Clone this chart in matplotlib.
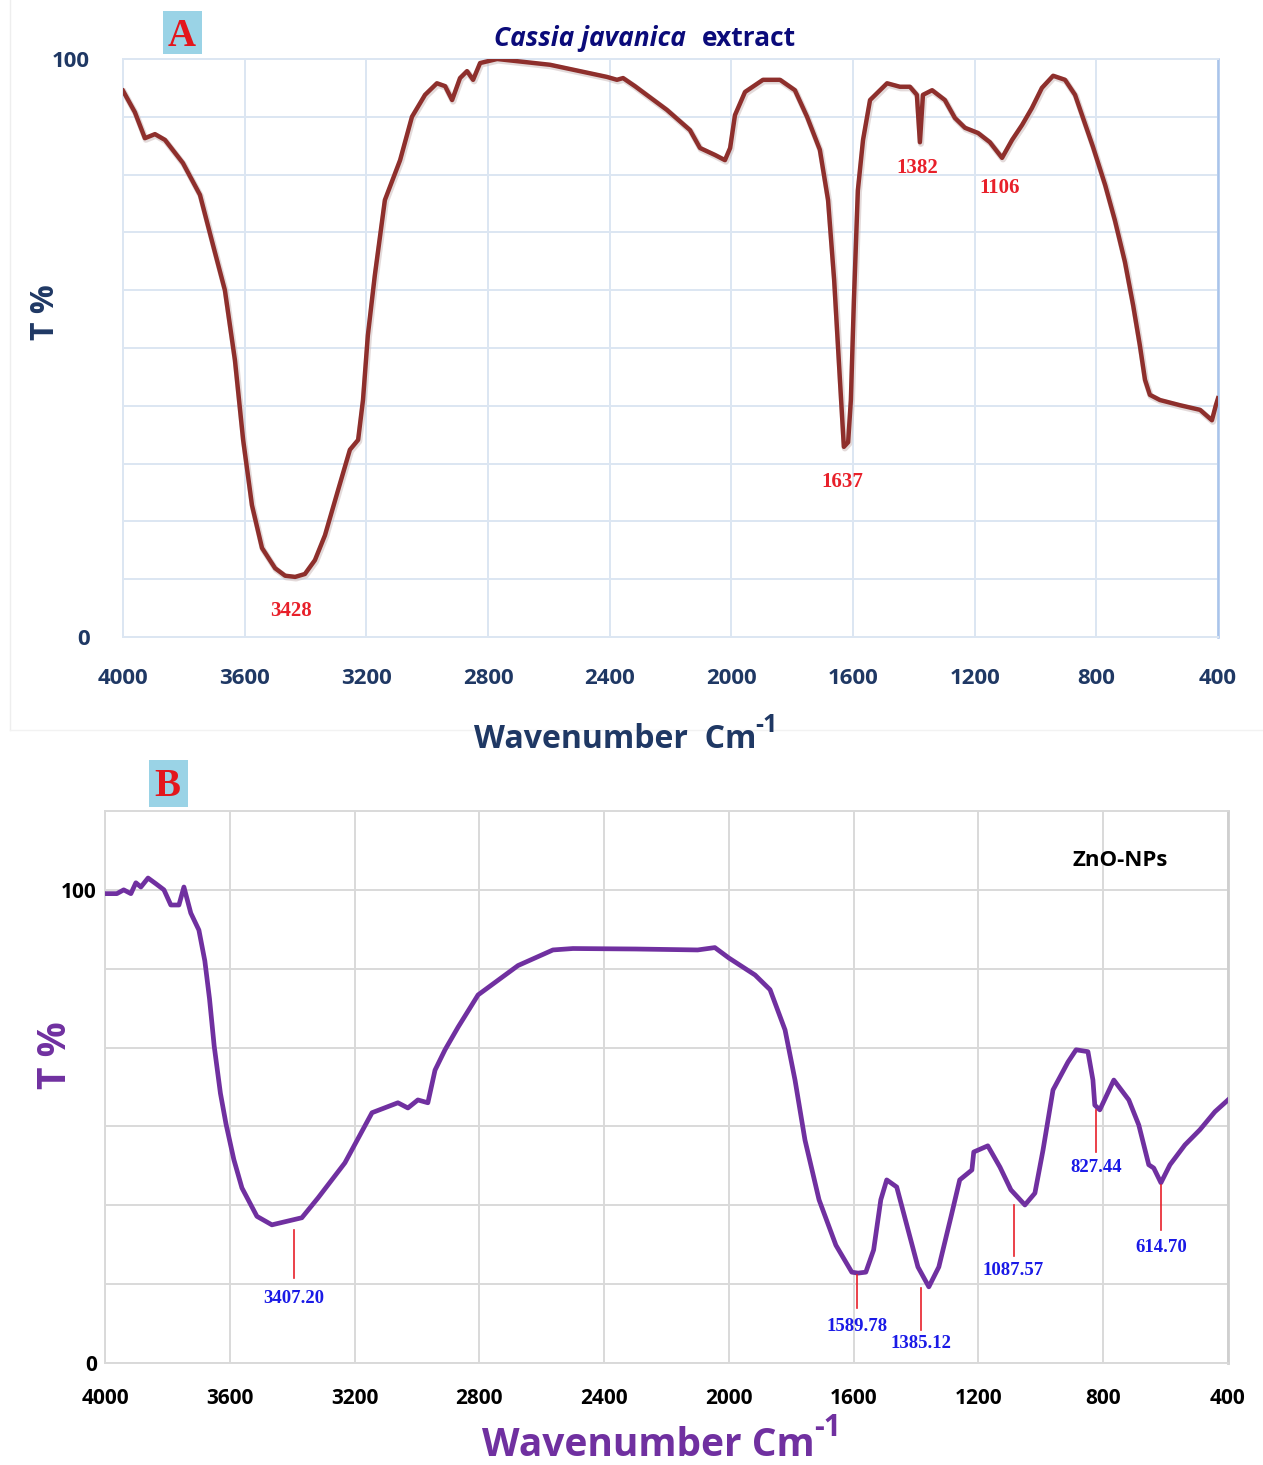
import numpy as np
import matplotlib
matplotlib.use("Agg")
import matplotlib.pyplot as plt
import matplotlib.transforms as mtrans
from matplotlib.patches import Rectangle
from matplotlib.lines import Line2D

# ---- panel A: Cassia javanica extract (wavenumber, T%) ----
wn_a = [4000, 3961, 3928, 3895, 3862, 3803, 3747, 3704, 3665, 3632, 3605, 3576,
        3543, 3500, 3467, 3434, 3402, 3369, 3336, 3293, 3254, 3227, 3211, 3195,
        3172, 3139, 3089, 3050, 3007, 2968, 2941, 2918, 2892, 2869, 2849, 2826,
        2770, 2596, 2409, 2376, 2356, 2317, 2212, 2136, 2103, 2054, 2021, 2004,
        1988, 1955, 1896, 1840, 1791, 1751, 1709, 1682, 1662, 1643, 1630, 1616,
        1607, 1597, 1584, 1567, 1544, 1488, 1446, 1413, 1390, 1380, 1370, 1340,
        1298, 1265, 1232, 1189, 1150, 1110, 1077, 1044, 1012, 979, 942, 903,
        870, 811, 771, 739, 706, 679, 657, 640, 624, 591, 525, 459, 420, 407, 400]
t_a = [94.5, 90.8, 86.3, 87.0, 86.0, 82.0, 76.5, 67.8, 60.0, 47.9, 34.1, 22.8,
       15.4, 11.9, 10.6, 10.4, 10.9, 13.3, 17.6, 25.4, 32.4, 34.1, 41.0, 52.2,
       62.6, 75.6, 82.5, 90.0, 93.8, 95.8, 95.3, 92.9, 96.7, 97.9, 96.4, 99.3,
       100.0, 99.0, 96.9, 96.4, 96.7, 95.3, 91.2, 87.7, 84.6, 83.4, 82.5, 84.6,
       90.3, 94.3, 96.4, 96.4, 94.6, 90.0, 84.3, 75.6, 61.8, 44.5, 32.9, 33.7,
       41.0, 58.3, 77.3, 86.0, 92.9, 95.8, 95.2, 95.2, 93.8, 85.6, 93.8, 94.6,
       92.9, 89.8, 88.1, 87.2, 85.6, 82.9, 86.0, 88.6, 91.5, 95.0, 97.1, 96.4,
       93.8, 84.8, 78.2, 72.1, 64.9, 57.4, 50.5, 44.5, 41.9, 41.0, 40.1, 39.3,
       37.5, 40.1, 41.3]
peaks_a = ["3428", "1637", "1382", "1106"]
peak_a_x = [3448, 1636, 1390, 1117]
peak_a_y = [4.5, 26.8, 81.1, 77.7]

# ---- panel B: ZnO-NPs ----
wn_b = [4000, 3962, 3940, 3917, 3901, 3885, 3862, 3837, 3811, 3789, 3763, 3747,
        3725, 3699, 3680, 3665, 3650, 3630, 3612, 3587, 3561, 3513, 3465, 3369, 3317,
        3231, 3144, 3061, 3029, 2997, 2965, 2942, 2910, 2868, 2804, 2676, 2564,
        2500, 2300, 2100, 2045, 2000, 1916, 1868, 1820, 1788, 1756, 1711, 1657,
        1606, 1586, 1561, 1536, 1513, 1494, 1462, 1423, 1394, 1359, 1327, 1288,
        1260, 1221, 1215, 1170, 1131, 1096, 1051, 1019, 993, 961, 913, 887,
        849, 833, 827, 811, 766, 718, 686, 654, 638, 615, 586, 538, 490, 442, 400]
t_b = [99.2, 99.2, 100.0, 99.2, 101.5, 100.6, 102.5, 101.3, 100.0, 96.8, 96.8, 100.6,
       95.1, 91.5, 85.0, 77.0, 67.0, 57.0, 50.5, 43.0, 37.0, 31.0, 29.2, 30.7, 34.9,
       42.3, 52.9, 55.0, 53.9, 55.6, 55.0, 61.9, 66.2, 71.0, 77.8, 84.0, 87.3,
       87.6, 87.5, 87.3, 87.8, 85.6, 82.0, 78.9, 70.4, 59.8, 47.1, 34.5, 24.9,
       19.2, 19.0, 19.2, 23.9, 34.5, 38.7, 37.2, 27.5, 20.3, 16.1, 20.3, 30.9,
       38.7, 40.8, 44.6, 45.9, 41.4, 36.6, 33.4, 35.9, 45.0, 57.7, 63.6, 66.2,
       65.8, 59.8, 54.5, 53.5, 59.8, 55.6, 50.3, 41.9, 41.2, 38.1, 41.9, 46.1,
       49.3, 53.1, 55.6]
peaks_b = ["3407.20", "1589.78", "1385.12", "1087.57", "827.44", "614.70"]
peak_b_x = [3394, 1589.78, 1385.12, 1087.57, 823, 614.70]
peak_b_top = [28.1, 18.6, 15.9, 33.4, 53.5, 37.6]
peak_b_bot = [18.0, 11.6, 7.0, 22.6, 44.6, 28.1]
peak_b_lab = [13.7, 7.8, 4.2, 19.5, 41.4, 24.5]

xticks = [4000, 3600, 3200, 2800, 2400, 2000, 1600, 1200, 800, 400]

W, H = 1263, 1465
fig = plt.figure(figsize=(W / 100, H / 100), dpi=100)
SANS = ["Open Sans", "DejaVu Sans"]
SERIF = ["Liberation Serif", "DejaVu Serif"]

def box(x0, y0, x1, y1):
    # pixel box (top-left origin) -> figure fraction rect
    return [x0 / W, 1 - y1 / H, (x1 - x0) / W, (y1 - y0) / H]

def ftext(x, y, s, **kw):
    # text placed by pixel position of the reference
    return fig.text(x / W, 1 - y / H, s, **kw)

navy = "#1F3864"
purple = "#7030A0"

# faint frame around panel A
fig.add_artist(Line2D([10 / W, 10 / W], [1, 1 - 730 / H], color="#EEEEEE", lw=1))
fig.add_artist(Line2D([10 / W, 1], [1 - 730 / H, 1 - 730 / H], color="#F2F2F2", lw=1))

# ---------------- panel A ----------------
ax = fig.add_axes(box(123, 59, 1218, 637))
shadow = ax.transData + mtrans.ScaledTranslation(1 / 100, -1.5 / 100, fig.dpi_scale_trans)
ax.plot(wn_a, t_a, color="#C9B7B7", lw=4.5, alpha=0.5, zorder=2, transform=shadow)
ax.plot(wn_a, t_a, color="#8E2F2C", lw=3.2, zorder=3)
ax.set_xlim(4000, 400)
ax.set_ylim(0, 100)
ax.set_xticks(xticks)
ax.set_xticklabels([str(v) for v in xticks])
ax.set_yticks(np.arange(0, 101, 10))
ax.set_yticklabels(["0"] + [""] * 9 + ["100"])
ax.grid(True, color="#DCE6F2", lw=1.4)
ax.set_axisbelow(True)
for s in ax.spines.values():
    s.set_color("#DCE6F2")
    s.set_linewidth(1.4)
ax.spines["right"].set_color("#A9C4EB")
ax.spines["right"].set_linewidth(1.8)
ax.tick_params(length=0, pad=22, labelsize=16, labelcolor=navy)
ax.tick_params(axis="y", pad=24)
for lab in ax.get_xticklabels() + ax.get_yticklabels():
    lab.set_fontfamily(SANS)
    lab.set_fontweight("bold")
ftext(615, 740, "Wavenumber  Cm", fontsize=23, fontweight="bold", color=navy,
      family=SANS, ha="center", va="center")
ftext(755, 726, "-1", fontsize=18, fontweight="bold", color=navy,
      family=SANS, ha="left", va="center")
ftext(45, 312, "T %", rotation=90, fontsize=23, fontweight="bold",
      color=navy, family=SANS, ha="center", va="center")
for txt, x, y in zip(peaks_a, peak_a_x, peak_a_y):
    ax.text(x, y, txt, color="#E8202A", fontsize=15, fontweight="bold",
            family=SERIF, ha="center", va="center")
ftext(686, 38, "Cassia javanica", fontsize=19, fontweight="bold",
      style="italic", color="#0B0B7A", family=SANS, ha="right", va="center")
ftext(702, 38, "extract", fontsize=19, fontweight="bold",
      color="#0B0B7A", family=SANS, ha="left", va="center")
fig.add_artist(Rectangle((163 / W, 1 - 54 / H), 39 / W, 43 / H,
                         transform=fig.transFigure, color="#9AD3E6", lw=0))
ftext(182, 37, "A", fontsize=28, fontweight="bold", color="#E3161C",
      family=SERIF, ha="center", va="center")

# ---------------- panel B ----------------
bx = fig.add_axes(box(105, 811, 1228, 1363))
bx.plot(wn_b, t_b, color=purple, lw=3.4, zorder=3)
bx.set_xlim(4000, 400)
bx.set_ylim(0, 700 / 6)
bx.set_xticks(xticks)
bx.set_xticklabels([str(v) for v in xticks])
bx.set_yticks(np.arange(7) * 100 / 6)
bx.set_yticklabels(["0", "", "", "", "", "", "100"])
bx.grid(True, color="#D9D9D9", lw=1.4)
bx.set_axisbelow(True)
for s in bx.spines.values():
    s.set_color("#D9D9D9")
    s.set_linewidth(1.4)
bx.spines["right"].set_color("#CFCFCF")
bx.spines["right"].set_linewidth(2)
bx.tick_params(length=0, pad=18, labelsize=15, labelcolor="black")
bx.tick_params(axis="y", pad=6)
for lab in bx.get_xticklabels() + bx.get_yticklabels():
    lab.set_fontfamily(SANS)
    lab.set_fontweight("bold")
ftext(648, 1445, "Wavenumber Cm", fontsize=28, fontweight="bold", color=purple,
      family=SANS, ha="center", va="center")
ftext(814, 1428, "-1", fontsize=22, fontweight="bold", color=purple,
      family=SANS, ha="left", va="center")
ftext(55, 1055, "T %", rotation=90, fontsize=28, fontweight="bold",
      color=purple, family=SANS, ha="center", va="center")
for txt, x, y0, y1, yl in zip(peaks_b, peak_b_x, peak_b_top, peak_b_bot, peak_b_lab):
    bx.plot([x, x], [y0, y1], color="#E8202A", lw=1.2, zorder=4)
    bx.text(x, yl, txt, color="#1A1AE6", fontsize=13.5, fontweight="bold",
            family=SERIF, ha="center", va="center")
ftext(1120, 860, "ZnO-NPs", fontsize=16, fontweight="bold", color="black",
      family=SANS, ha="center", va="center")
fig.add_artist(Rectangle((149 / W, 1 - 807 / H), 39 / W, 47 / H,
                         transform=fig.transFigure, color="#9AD3E6", lw=0))
ftext(167, 786, "B", fontsize=28, fontweight="bold", color="#E3161C",
      family=SERIF, ha="center", va="center")

fig.savefig("out.png", dpi=100)
